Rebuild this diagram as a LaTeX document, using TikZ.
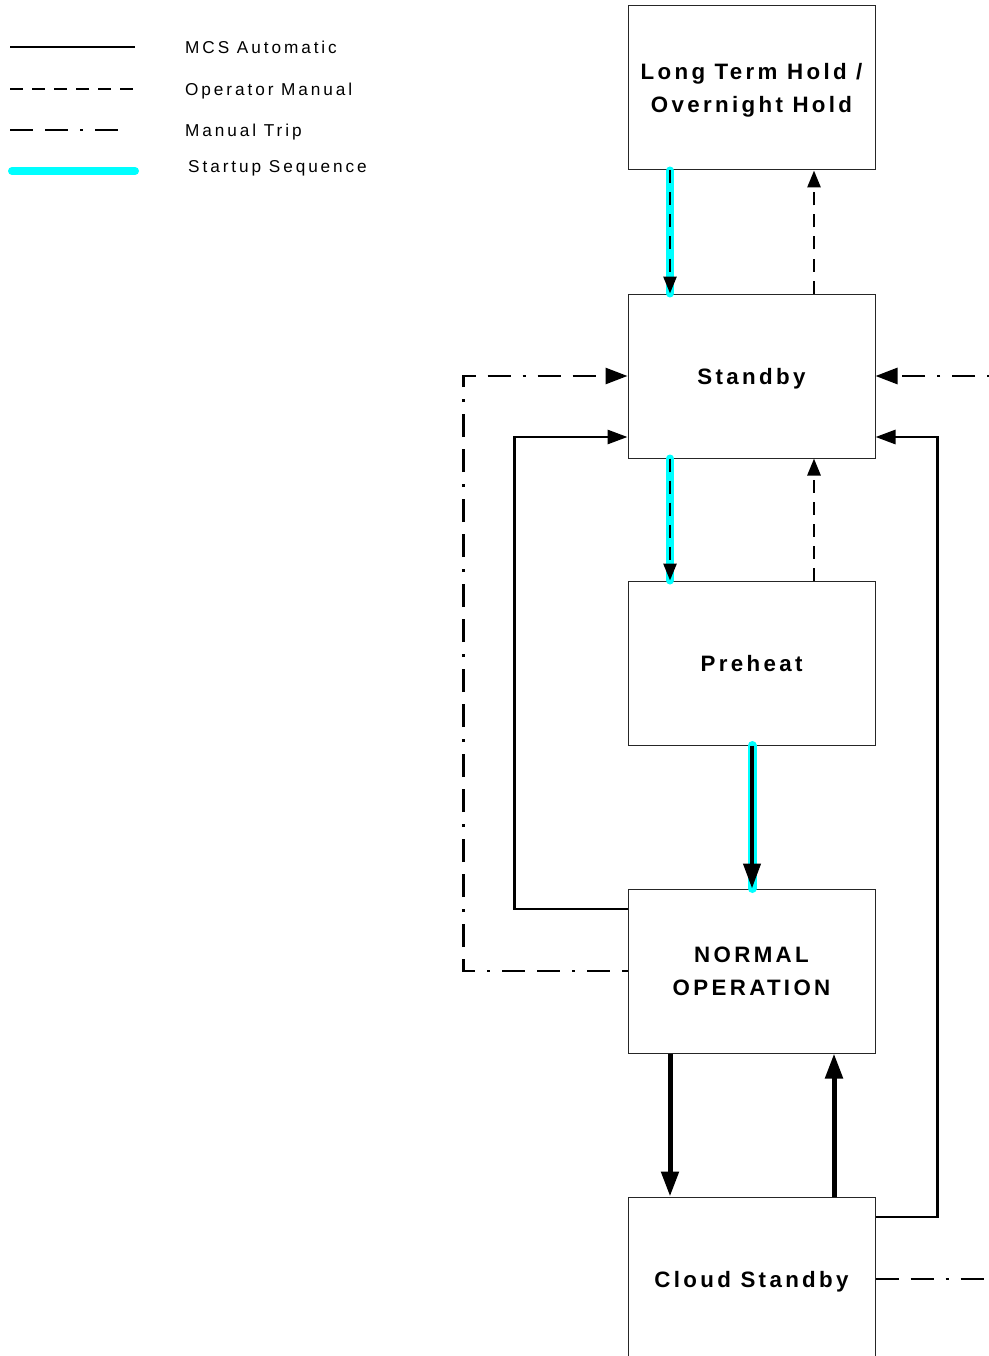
\documentclass[tikz,border=0pt]{standalone}
\usepackage{fontspec}
\setmainfont{Liberation Sans}
\newfontfamily\spacedfont[LetterSpace=15]{Liberation Sans}
\newfontfamily\legendfont[LetterSpace=17]{Liberation Sans}
\usetikzlibrary{arrows.meta}
\definecolor{aqua}{RGB}{0,255,255}
\begin{document}
\begin{tikzpicture}[x=1pt,y=-1pt,
  statebox/.style={draw=black!85,line width=1pt,minimum width=247pt,minimum height=164pt,
    inner sep=0pt,align=center,text depth=0pt,font=\spacedfont\bfseries\fontsize{22.3}{33}\selectfont},
  legtext/.style={anchor=west,inner sep=0pt,font=\legendfont\fontsize{17.2}{20}\selectfont},
  opman/.style={line width=2.8pt,dash pattern=on 13pt off 9pt},
  mcsauto/.style={line width=2.8pt},
  mcsthick/.style={line width=5pt},
  triplin/.style={line width=2.8pt,dash pattern=on 23pt off 12pt on 23pt off 12pt on 3pt off 12pt},
  startup/.style={aqua,line width=8pt,line cap=round},
  hdash/.style={-{Triangle[length=17pt,width=13pt]}},
  hauto/.style={-{Triangle[length=20pt,width=14pt]}},
  hthick/.style={-{Triangle[length=25pt,width=17pt]}},
  htrip/.style={-{Triangle[length=22pt,width=16pt]}}
]
\useasboundingbox (0,0) rectangle (988,1356);

% legend
\coordinate (l1a) at (10,47);  \coordinate (l1b) at (135,47);
\coordinate (l2a) at (10,89);  \coordinate (l2b) at (134,89);
\coordinate (l3a) at (10,130); \coordinate (l3b) at (122,130);
\coordinate (l4a) at (12,171); \coordinate (l4b) at (135,171);
\draw[mcsauto] (l1a) -- (l1b);
\draw[opman] (l2a) -- (l2b);
\draw[triplin] (l3a) -- (l3b);
\draw[startup] (l4a) -- (l4b);
\node[legtext] (t1) at (185,47.5) {MCS Automatic};
\node[legtext] (t2) at (185,91.5) {Operator Manual};
\node[legtext] (t3) at (185,132.5) {Manual Trip};
\node[legtext] (t4) at (188,168.5) {Startup Sequence};

% boxes
\node[statebox] (lth) at (751.5,88) {Long Term Hold /\\Overnight Hold};
\node[statebox] (stb) at (751.5,376) {Standby};
\node[statebox] (pre) at (751.5,663) {Preheat};
\node[statebox] (nor) at (751.5,971) {NORMAL\\OPERATION};
\node[statebox] (cld) at (751.5,1279) {Cloud Standby};

% LTH <-> Standby
\draw[startup] ([xshift=-81.5pt]lth.south) -- ([xshift=-81.5pt]stb.north);
\draw[opman,hdash] ([xshift=-81.5pt]lth.south) -- ([xshift=-81.5pt]stb.north);
\draw[opman,hdash] ([xshift=62.5pt]stb.north) -- ([xshift=62.5pt]lth.south);

% Standby <-> Preheat
\draw[startup] ([xshift=-81.5pt]stb.south) -- ([xshift=-81.5pt]pre.north);
\draw[opman,hdash] ([xshift=-81.5pt]stb.south) -- ([xshift=-81.5pt]pre.north);
\draw[opman,hdash] ([xshift=62.5pt]pre.north) -- ([xshift=62.5pt]stb.south);

% Preheat -> Normal
\draw[startup,line width=9pt] ([xshift=0.5pt]pre.south) -- ([xshift=0.5pt]nor.north);
\draw[mcsauto,line width=4.2pt,hthick] ([xshift=0.5pt]pre.south) -- ([xshift=0.5pt]nor.north);

% Normal <-> Cloud
\draw[mcsthick,hthick] ([xshift=-81.5pt]nor.south) -- ([xshift=-81.5pt]cld.north);
\draw[mcsthick,hthick] ([xshift=82.5pt]cld.north) -- ([xshift=82.5pt]nor.south);

% Normal -> Standby loops
\draw[mcsauto,hauto] ([yshift=62pt]nor.west) -- ++(-113,0) |- ([yshift=-61pt]stb.west);
\draw[triplin,htrip,dash phase=17pt] (nor.west) -- ++(-164,0) |- (stb.west);

% right side
\coordinate (rin) at (990,376);
\coordinate (rout) at (990,1279);
\draw[triplin,htrip,dash phase=20pt] (rin) -- (stb.east);
\draw[mcsauto,hauto] ([yshift=62pt]cld.east) -- ++(62,0) |- ([yshift=-61pt]stb.east);
\draw[triplin] (cld.east) -- (rout);
\end{tikzpicture}
\end{document}
